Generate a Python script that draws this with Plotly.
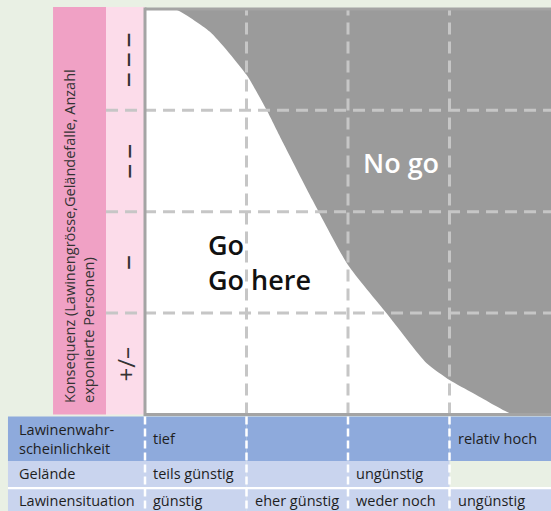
import plotly.graph_objects as go

# ---------------- data ----------------
consequence_labels = ["+/–", "–", "–\u2009–", "–\u2009–\u2009–"]   # bottom -> top
y_title = "Konsequenz (Lawinengrösse,Geländefalle, Anzahl<br>exponierte Personen)"
row_titles = ["Lawinenwahr-<br>scheinlichkeit", "Gelände", "Lawinensituation"]
wahrscheinlichkeit = ["tief", "", "", "relativ hoch"]
gelaende = ["teils günstig", "", "ungünstig", None]
lawinensituation = ["günstig", "eher günstig", "weder noch", "ungünstig"]

# boundary between "Go" (below) and "No go" (above)
boundary_x = [0.0, 0.29, 0.64, 1.0, 1.2, 1.36, 1.65, 2.0, 2.38, 2.775, 3.0, 3.234, 3.596, 3.7]
boundary_y = [4.0, 4.0, 3.775, 3.35, 3.0, 2.68, 2.115, 1.474, 0.998, 0.505, 0.34, 0.209, 0.012, 0.0]

go_text = "Go<br>Go here"
nogo_text = "No go"

# ---------------- style ----------------
BG = "#e9f0e4"
DARK_PINK = "#f0a1c5"
LIGHT_PINK = "#fcdcea"
GRAY = "#9b9b9b"
GRID = "#c6c6c6"
FRAME = "#a4a4a4"
ROW1 = "#8eaadc"
ROW2 = "#c9d4ee"
TXT = "#1e1e1e"
FONT = "Open Sans"

X0, X1 = -1.4286, 4.0
Y0, Y1 = -0.952, 4.088
XR = X1 + 0.1
TABLE_LEFT = -1.35
PINK_DARK = (-0.906, -0.384)
PINK_LIGHT = (-0.384, 0.0)
PINK_TOP = 4.02
ROW_BOUNDS = [(-0.459, -0.02), (-0.715, -0.459), (-0.952, -0.735)]
SEP = (-0.737, -0.715)
NCOL = len(lawinensituation)
NROW = len(consequence_labels)

shapes = []
annotations = []


def rect(x0, x1, y0, y1, color, layer="below"):
    shapes.append(dict(type="rect", xref="x", yref="y", x0=x0, x1=x1, y0=y0, y1=y1,
                       fillcolor=color, line=dict(width=0), layer=layer))


def text(x, y, s, size, color=TXT, xanchor="left", angle=0, weight="normal", align="left", yanchor="middle"):
    annotations.append(dict(x=x, y=y, xref="x", yref="y", text=s, showarrow=False,
                            xanchor=xanchor, yanchor=yanchor, textangle=angle, align=align,
                            font=dict(family=FONT, size=size, color=color, weight=weight)))


# pink axis columns and gray plot area
rect(*PINK_DARK, 0, PINK_TOP, DARK_PINK)
rect(*PINK_LIGHT, 0, PINK_TOP, LIGHT_PINK)
rect(0, XR, 0, NROW, GRAY)

# table
rows = [(row_titles[0], wahrscheinlichkeit, ROW1),
        (row_titles[1], gelaende, ROW2),
        (row_titles[2], lawinensituation, ROW2)]
for r, (title, vals, color) in enumerate(rows):
    y0, y1 = ROW_BOUNDS[r]
    ym = (y0 + y1) / 2
    rect(TABLE_LEFT, 0, y0, y1, color)
    text(TABLE_LEFT + 0.09, ym, title, 14.5)
    for i, v in enumerate(vals):
        if v is None:
            continue
        rect(i, i + 1 if i < NCOL - 1 else XR, y0, y1, color)
        if v:
            text(i + 0.06, ym, v, 14.5)
rect(TABLE_LEFT, XR, SEP[0], SEP[1], "white")

# frame
for (xa, ya, xb, yb) in [(0, -0.015, 0, NROW + 0.015), (0, NROW, XR, NROW), (0, 0, XR, 0)]:
    shapes.append(dict(type="line", xref="x", yref="y", x0=xa, y0=ya, x1=xb, y1=yb,
                       line=dict(color=FRAME, width=3), layer="above"))

# y labels
for j, lab in enumerate(consequence_labels):
    text(-0.19, j + 0.5, lab, 24 if j == 0 else 30, color="#333333", xanchor="center", angle=-90)
text((PINK_DARK[0] + PINK_DARK[1]) / 2, 0.09, y_title, 14.5, color="#333333",
     xanchor="center", angle=-90, align="left", yanchor="bottom")

# Go / No go
text(0.6, 1.5, go_text, 27, color="#111111", weight=600)
text(2.527, 2.49, nogo_text, 27, color="white", xanchor="center", weight=600)

fig = go.Figure()
fig.add_trace(go.Scatter(x=boundary_x, y=boundary_y, mode="lines",
                         line=dict(width=0, shape="spline", smoothing=0.55),
                         fill="tozeroy", fillcolor="white", hoverinfo="skip"))

gx, gy = [], []
for c in range(1, NCOL):
    gx += [c, c, None]
    gy += [0, NROW, None]
for r in range(1, NROW):
    gx += [PINK_LIGHT[0], XR, None]
    gy += [r, r, None]
fig.add_trace(go.Scatter(x=gx, y=gy, mode="lines",
                         line=dict(color=GRID, width=3, dash="12px,7px"), hoverinfo="skip"))

tx, ty = [], []
for c in range(0, NCOL):
    tx += [c, c, None]
    ty += [-0.02, Y0, None]
fig.add_trace(go.Scatter(x=tx, y=ty, mode="lines",
                         line=dict(color="white", width=2.5, dash="8px,4px"), hoverinfo="skip"))

fig.update_layout(width=551, height=511, margin=dict(l=0, r=0, t=0, b=0, pad=0),
                  paper_bgcolor=BG, plot_bgcolor=BG, showlegend=False, hovermode=False,
                  xaxis=dict(range=[X0, X1], visible=False, fixedrange=True),
                  yaxis=dict(range=[Y0, Y1], visible=False, fixedrange=True),
                  shapes=shapes, annotations=annotations)
fig.write_html("out.html", config={"displayModeBar": False, "staticPlot": True},
               post_script="document.body.style.margin='0';document.body.style.background='" + BG + "';")
